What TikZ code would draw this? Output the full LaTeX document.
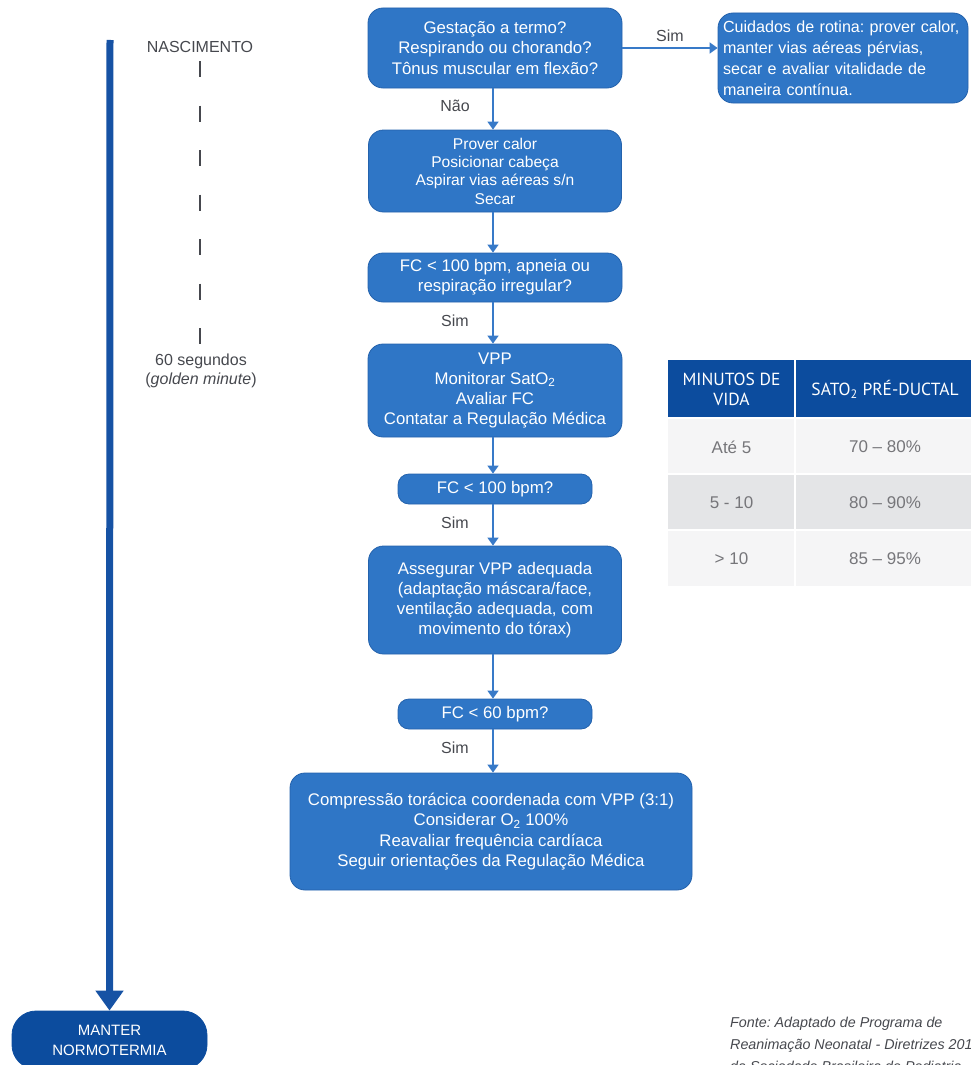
\documentclass[tikz,border=0pt]{standalone}
\usepackage{fontspec}
\setmainfont{Liberation Sans}
\newfontfamily\headfont{PT Sans}
\usetikzlibrary{arrows.meta}
\frenchspacing

\definecolor{boxblue}{RGB}{47,118,198}
\definecolor{boxedge}{RGB}{36,98,172}
\definecolor{arrowblue}{RGB}{56,122,200}
\definecolor{lineblue}{RGB}{22,82,164}
\definecolor{tableblue}{RGB}{12,76,158}
\definecolor{labelgray}{RGB}{70,72,78}
\definecolor{cellgray}{RGB}{118,118,122}
\definecolor{rowlight}{RGB}{245,245,246}
\definecolor{rowdark}{RGB}{228,229,231}

\tikzset{
  flowbox/.style={fill=boxblue, draw=boxedge, line width=0.8pt, rounded corners=15pt,
    text=white, align=center, inner sep=0pt,
    font=\fontsize{16.8}{20.2}\selectfont},
  flowarrow/.style={draw=arrowblue, line width=1.6pt,
    -{Triangle[width=11pt,length=8pt]}},
  edgelabel/.style={text=labelgray, font=\fontsize{16}{19}\selectfont},
  timelabel/.style={text=labelgray, align=center, font=\fontsize{16}{19}\selectfont},
  headcell/.style={text=white, align=center, font=\headfont\fontsize{17.5}{20}\selectfont},
  bodycell/.style={text=cellgray, font=\fontsize{17}{20}\selectfont},
}

\begin{document}
\begin{tikzpicture}[x=1pt,y=-1pt]
\useasboundingbox (0,0) rectangle (971,1065);

% main flow
\node[flowbox, minimum width=254pt, minimum height=80pt] (b1) at (495,48)
  {Gestação a termo?\\Respirando ou chorando?\\Tônus muscular em flexão?};
\node[flowbox, minimum width=250pt, minimum height=90pt, align=left, text width=240pt,
  font=\fontsize{16.1}{21}\selectfont]
  (care) at (843,58)
  {Cuidados de rotina: prover calor,\\manter vias aéreas pérvias,\\secar e avaliar vitalidade de\\maneira contínua.};
\node[flowbox, minimum width=253pt, minimum height=82pt,
  font=\fontsize{15.6}{18.3}\selectfont] (b2) at (495,171)
  {Prover calor\\Posicionar cabeça\\Aspirar vias aéreas s/n\\Secar};
\node[flowbox, minimum width=254pt, minimum height=49pt] (b3) at (495,277.5)
  {FC < 100 bpm, apneia ou\\respiração irregular?};
\node[flowbox, minimum width=254pt, minimum height=93pt] (b4) at (495,390.5)
  {VPP\\Monitorar SatO\textsubscript{2}\\Avaliar FC\\Contatar a Regulação Médica};
\node[flowbox, minimum width=194pt, minimum height=30pt, rounded corners=11pt] (b5) at (495,489)
  {FC < 100 bpm?};
\node[flowbox, minimum width=253pt, minimum height=108pt] (b6) at (495,600)
  {Assegurar VPP adequada\\(adaptação máscara/face,\\ventilação adequada, com\\movimento do tórax)};
\node[flowbox, minimum width=194pt, minimum height=30pt, rounded corners=11pt] (b7) at (495,714)
  {FC < 60 bpm?};
\node[flowbox, minimum width=402pt, minimum height=117pt] (b8) at (491,831.5)
  {Compressão torácica coordenada com VPP (3:1)\\Considerar O\textsubscript{2} 100\%\\Reavaliar frequência cardíaca\\Seguir orientações da Regulação Médica};

\draw[flowarrow] (b1.east) -- node[edgelabel, above=2pt] (simtop) {Sim} (care.west |- b1.east);
\draw[flowarrow] (b1.south -| 493,0) -- (b2.north -| 493,0);
\node[edgelabel] (nao) at (455,106) {Não};
\draw[flowarrow] (b2.south -| 493,0) -- (b3.north -| 493,0);
\draw[flowarrow] (b3.south -| 493,0) -- (b4.north -| 493,0);
\node[edgelabel] (sim1) at (455,321) {Sim};
\draw[flowarrow] (b4.south -| 493,0) -- (b5.north -| 493,0);
\draw[flowarrow] (b5.south -| 493,0) -- (b6.north -| 493,0);
\node[edgelabel] (sim2) at (455,523) {Sim};
\draw[flowarrow] (b6.south -| 493,0) -- (b7.north -| 493,0);
\draw[flowarrow] (b7.south -| 493,0) -- (b8.north -| 493,0);
\node[edgelabel] (sim3) at (455,748) {Sim};

% time line
\node[flowbox, minimum width=195pt, minimum height=58pt, rounded corners=24pt,
  fill=tableblue, draw=tableblue, font=\fontsize{15}{20}\selectfont] (keep) at (109.5,1040)
  {MANTER\\NORMOTERMIA};
\coordinate (ttop) at (110,40);
\draw[lineblue, line width=7pt, -{Triangle[width=27pt,length=20pt]}] (ttop) -- (keep.north);

\node[timelabel] (birth) at (200,47) {NASCIMENTO};
\node[timelabel] (minute) at (201,371) {60 segundos\\(\textit{golden minute})};
\draw[labelgray, line width=1.5pt, dash pattern=on 16pt off 28.5pt] (birth.south) ++(0,5) coordinate (dtop) -- (200,350) coordinate (dbot);

% saturation table
\fill[tableblue] (668,360) rectangle (971,418);
\fill[rowlight] (668,418) rectangle (971,474);
\fill[rowdark] (668,474) rectangle (971,530);
\fill[rowlight] (668,530) rectangle (971,586);
\draw[white, line width=1.5pt] (668,418) -- (971,418) (668,474) -- (971,474) (668,530) -- (971,530);
\draw[white, line width=1.5pt] (795,360) -- (795,586);

\node[headcell] (h1) at (731.5,389) {MINUTOS DE\\VIDA};
\node[headcell] (h2) at (885,389) {SATO\textsubscript{2} PRÉ-DUCTAL};
\node[bodycell] (r1a) at (731.5,447) {Até 5};
\node[bodycell] (r1b) at (885,447) {70 – 80\%};
\node[bodycell] (r2a) at (731.5,503) {5 - 10};
\node[bodycell] (r2b) at (885,503) {80 – 90\%};
\node[bodycell] (r3a) at (731.5,559) {> 10};
\node[bodycell] (r3b) at (885,559) {85 – 95\%};

% source note
\node[anchor=north west, align=left, text=labelgray, inner sep=0pt,
  font=\itshape\fontsize{14.3}{22}\selectfont] (source) at (730,1017)
  {Fonte: Adaptado de Programa de\\Reanimação Neonatal - Diretrizes 2016\\da Sociedade Brasileira de Pediatria};
\end{tikzpicture}
\end{document}
